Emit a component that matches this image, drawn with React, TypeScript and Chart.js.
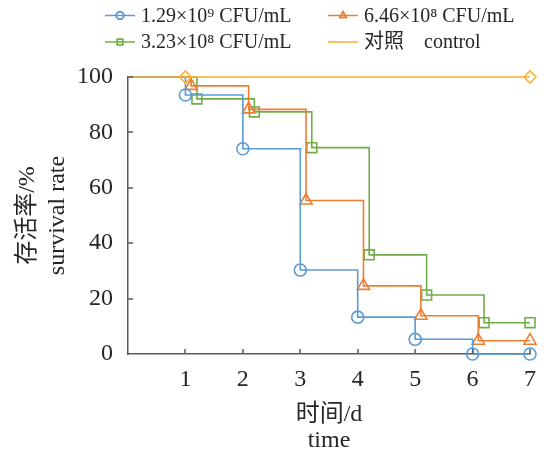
import React, { useEffect, useRef } from 'react';
import { Chart, registerables } from 'chart.js';
import * as helpers from 'chart.js/helpers';

Chart.register(...registerables);

// ---- data ----
const days = [1, 2, 3, 4, 5, 6, 7];
const startRate = 100;
const seriesLabels = ['1.29×10⁹ CFU/mL', '6.46×10⁸ CFU/mL', '3.23×10⁸ CFU/mL', '对照\u3000control'];
const rate129e9 = [93.5, 74.1, 30.3, 13.3, 5.3, 0, 0];
const rate646e8 = [96.8, 88.3, 55.4, 24.6, 13.8, 4.8, 4.8];
const rate323e8 = [92.1, 87.4, 74.5, 35.8, 21.3, 11.3, 11.3];
const rateControl = [100, 100, 100, 100, 100, 100, 100];
const xTickValues = [1, 2, 3, 4, 5, 6, 7];
const yTickValues = [0, 20, 40, 60, 80, 100];
const xTitle = ['时间/d', 'time'];
const yTitle = ['存活率/%', 'survival rate'];

const FONT = "'Liberation Serif', 'Times New Roman', 'Noto Sans CJK SC', serif";
const TEXT = '#262626';
const AXIS = '#595959';

type Pt = { x: number; y: number; m: boolean };

function stepPoints(values: number[], shift: number, markerDays?: number[]): Pt[] {
  const pts: Pt[] = [{ x: 0, y: startRate, m: false }];
  values.forEach((v, i) => {
    const d = days[i];
    const last = i === values.length - 1;
    const mark = markerDays ? markerDays.includes(d) : true;
    if (!last) {
      pts.push({ x: d + shift, y: v, m: mark });
    } else {
      pts.push({ x: d, y: v, m: mark });
      if (shift > 0) pts.push({ x: d + shift, y: v, m: false });
    }
  });
  return pts;
}

const legendPlugin = {
  id: 'gridLegend',
  afterDraw(chart: any) {
    const ctx = chart.ctx;
    const cols = [105, 328];
    const rows = [15.5, 42];
    chart.data.datasets.forEach((ds: any, i: number) => {
      const x0 = cols[i % 2];
      const y = rows[Math.floor(i / 2)];
      ctx.save();
      ctx.strokeStyle = ds.borderColor;
      ctx.lineWidth = 1.5;
      ctx.beginPath();
      ctx.moveTo(x0, y);
      ctx.lineTo(x0 + 30, y);
      ctx.stroke();
      if (ds.legendMarker) {
        ctx.fillStyle = 'rgba(0,0,0,0)';
        helpers.drawPoint(ctx, { pointStyle: ds.pointStyle, radius: 3.8, borderWidth: 1.2, rotation: 0 }, x0 + 15, y);
        ctx.stroke();
      }
      ctx.fillStyle = TEXT;
      ctx.font = `20px ${FONT}`;
      ctx.textBaseline = 'middle';
      ctx.textAlign = 'left';
      ctx.fillText(ds.label, x0 + 36, y + 1);
      ctx.restore();
    });
  },
};

const innerTicksPlugin = {
  id: 'innerTicks',
  afterDraw(chart: any) {
    const { ctx, chartArea, scales } = chart;
    ctx.save();
    ctx.strokeStyle = AXIS;
    ctx.lineWidth = 1.5;
    ctx.beginPath();
    xTickValues.forEach((v) => {
      const px = Math.round(scales.x.getPixelForValue(v));
      ctx.moveTo(px, chartArea.bottom);
      ctx.lineTo(px, chartArea.bottom - 5);
    });
    yTickValues.forEach((v) => {
      if (v === 0) return;
      const py = Math.round(scales.y.getPixelForValue(v));
      ctx.moveTo(chartArea.left, py);
      ctx.lineTo(chartArea.left + 5, py);
    });
    ctx.stroke();
    ctx.restore();
  },
};

export default function App() {
  const ref = useRef<HTMLCanvasElement | null>(null);

  useEffect(() => {
    if (!ref.current) return;
    const mk = (label: string, color: string, style: string, r: number, pts: Pt[], order: number, legendMarker = true) => ({
      label,
      data: pts,
      borderColor: color,
      backgroundColor: color,
      borderWidth: 1.6,
      stepped: 'before' as const,
      pointStyle: style,
      pointRadius: (c: any) => (c.raw && c.raw.m ? r : 0),
      pointHoverRadius: 0,
      pointBorderWidth: 1.6,
      pointBorderColor: color,
      pointBackgroundColor: 'rgba(0,0,0,0)',
      clip: false as any,
      order,
      legendMarker,
    });

    const chart = new Chart(ref.current, {
      type: 'line',
      data: {
        datasets: [
          mk(seriesLabels[0], '#5B9BD5', 'circle', 6, stepPoints(rate129e9, 0), 2),
          mk(seriesLabels[1], '#ED7D31', 'triangle', 7, stepPoints(rate646e8, 0.1), 3),
          mk(seriesLabels[2], '#70AD47', 'rect', 7, stepPoints(rate323e8, 0.2), 4),
          mk(seriesLabels[3], '#F8B132', 'rectRot', 6, stepPoints(rateControl, 0, [1, 7]), 1, false),
        ] as any,
      },
      options: {
        animation: false,
        responsive: false,
        maintainAspectRatio: false,
        layout: { padding: { top: 77, right: 14, bottom: 0, left: 0 } },
        plugins: { legend: { display: false }, tooltip: { enabled: false } },
        scales: {
          x: {
            type: 'linear',
            min: 0,
            max: 7,
            afterFit: (s: any) => { s.height = 102; },
            afterBuildTicks: (s: any) => { s.ticks = [0, ...xTickValues].map((v) => ({ value: v })); },
            ticks: {
              callback: (v: any) => (xTickValues.includes(v) ? String(v) : ''),
              font: { family: FONT, size: 24 },
              color: TEXT,
              padding: 11,
              maxRotation: 0,
            },
            grid: { display: false, drawTicks: false },
            border: { display: true, color: AXIS, width: 1.5 },
            title: {
              display: true,
              text: xTitle,
              font: { family: FONT, size: 24, lineHeight: 1.05 },
              color: TEXT,
              padding: { top: 0, bottom: 3 },
            },
          },
          y: {
            type: 'linear',
            min: 0,
            max: 100,
            afterFit: (s: any) => { s.width = 128; },
            afterBuildTicks: (s: any) => { s.ticks = yTickValues.map((v) => ({ value: v })); },
            ticks: {
              font: { family: FONT, size: 24 },
              color: TEXT,
              padding: 15,
            },
            grid: { display: false, drawTicks: false },
            border: { display: true, color: AXIS, width: 1.5 },
            title: {
              display: true,
              text: yTitle,
              font: { family: FONT, size: 24, lineHeight: 1.25 },
              color: TEXT,
              padding: { top: 13, bottom: 0 },
            },
          },
        },
      } as any,
      plugins: [legendPlugin, innerTicksPlugin],
    });
    return () => chart.destroy();
  }, []);

  return (
    <div style={{ position: 'absolute', left: 0, top: 0, width: 547, height: 456 }}>
      <canvas ref={ref} width={547} height={456} />
    </div>
  );
}
